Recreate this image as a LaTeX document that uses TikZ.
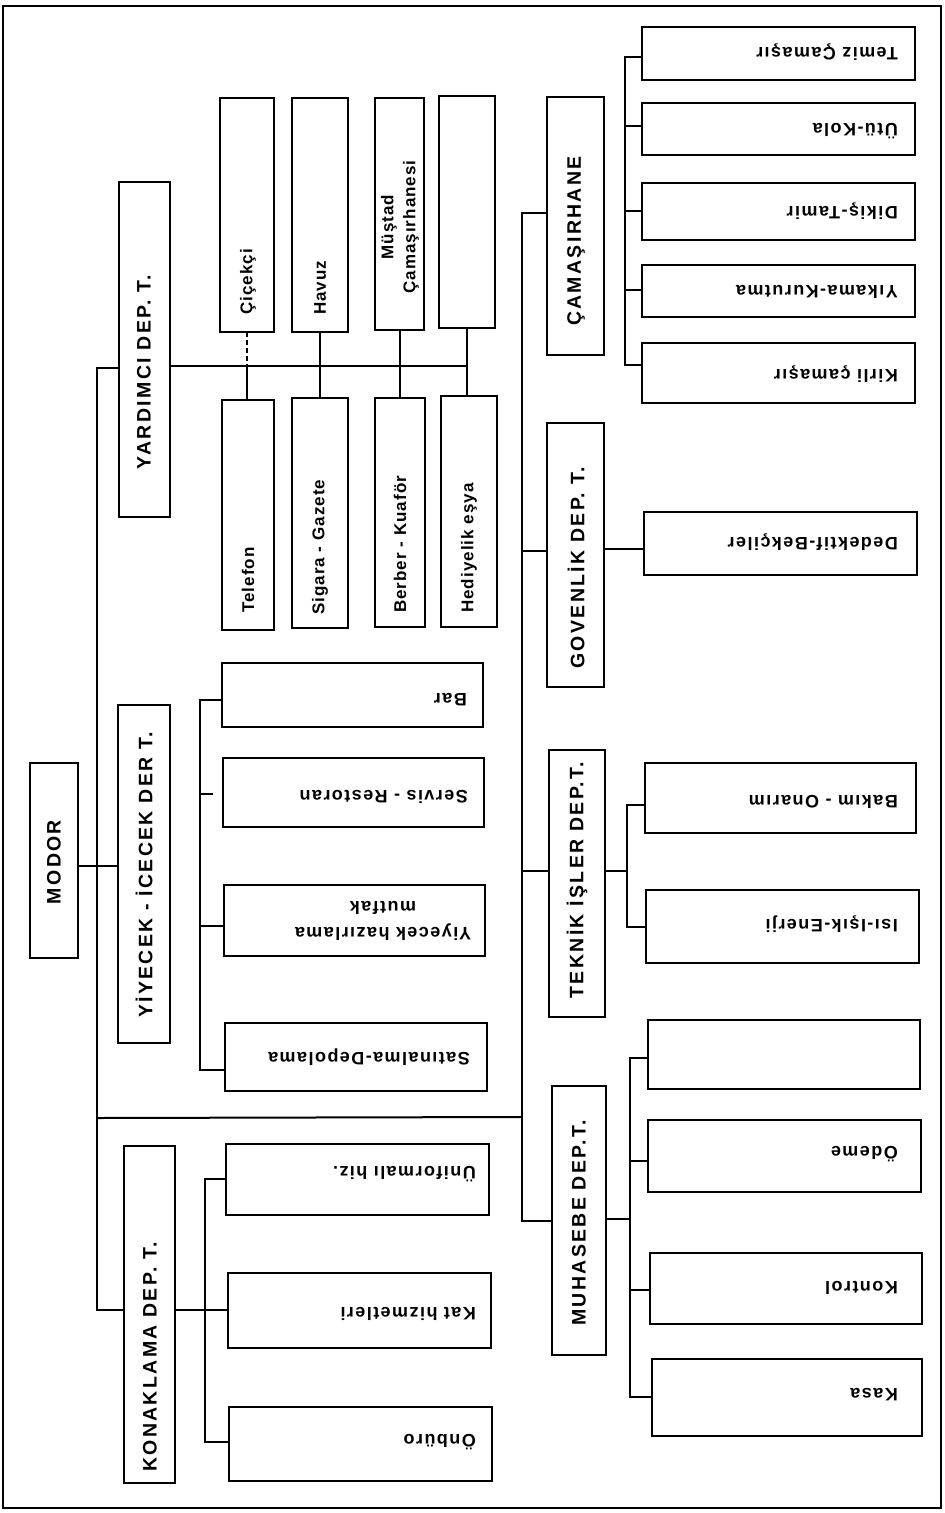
\documentclass[tikz,border=0pt]{standalone}
\usepackage{fontspec}
\setmainfont{Liberation Sans}
\newfontfamily\dfont{Liberation Sans}[LetterSpace=12]
\newfontfamily\hfont{Liberation Sans}[LetterSpace=8]
\newfontfamily\vfont{Liberation Sans}[LetterSpace=6]
\newcommand\bx[5]{\node[boxs, minimum width={#4pt-#2pt}, minimum height={#5pt-#3pt}] (#1) at ({(#2+#4)/2},{(#3+#5)/2}) {};}
\begin{document}
\begin{tikzpicture}[x=1pt,y=-1pt,
 boxs/.style={draw, line width=2.8pt, fill=white, inner sep=0pt, outer sep=0pt},
 conn/.style={line width=2pt},
 dl/.style={rotate=90, font=\dfont\bfseries\fontsize{19.5}{22}\selectfont, inner sep=0pt},
 vl/.style={rotate=90, anchor=west, font=\vfont\bfseries\fontsize{17}{22}\selectfont, inner sep=0pt},
 hl/.style={rotate=180, anchor=west, font=\hfont\bfseries\fontsize{18}{26}\selectfont, inner sep=0pt},
]
\useasboundingbox (0,0) rectangle (945,1513);
\fill[white] (0,0) rectangle (945,1513);
\draw[line width=2.6pt] (3,6) rectangle (941,1508);

% coordinates of junctions
\coordinate (mtA) at (97,368);
\coordinate (mtB) at (97,1310);
\coordinate (mtM) at (97,866);
\coordinate (mtH) at (97,1118);
\coordinate (rtA) at (522,213);
\coordinate (rtB) at (522,1221);
\coordinate (rtH) at (522,1117);
\coordinate (rtG) at (522,551);
\coordinate (rtT) at (522,871);
\coordinate (ybus) at (467,366);
\coordinate (yk1) at (200,700);
\coordinate (yk2) at (200,1070);
\coordinate (yks) at (200,794);
\coordinate (ykse) at (213,794);
\coordinate (ykh) at (200,926);
\coordinate (kk1) at (205,1179);
\coordinate (kk2) at (205,1442);
\coordinate (kkm) at (205,1310);
\coordinate (ck1) at (625,57);
\coordinate (ck2) at (625,365);
\coordinate (ck3) at (625,126);
\coordinate (ck4) at (625,211);
\coordinate (ck5) at (625,290);
\coordinate (gd) at (620,549);
\coordinate (tk1) at (627,805);
\coordinate (tk2) at (627,927);
\coordinate (tkm) at (627,871);
\coordinate (mk1) at (630,1058);
\coordinate (mk2) at (630,1397);
\coordinate (mk3) at (630,1161);
\coordinate (mk4) at (630,1290);
\coordinate (mkm) at (630,1219);

% boxes
\bx{mod}{30}{763}{78}{958}
\bx{yard}{119}{182}{170}{517}
\bx{yiy}{118}{705}{170}{1043}
\bx{kon}{124}{1146}{175}{1483}
\bx{cic}{220}{98}{274}{332}
\bx{hav}{292}{98}{348}{332}
\bx{mus}{375}{98}{424}{330}
\bx{blka}{439}{96}{495}{328}
\bx{tel}{222}{400}{274}{630}
\bx{sig}{292}{398}{348}{628}
\bx{ber}{375}{398}{425}{627}
\bx{hed}{441}{396}{497}{627}
\bx{bar}{222}{663}{483}{727}
\bx{ser}{223}{758}{484}{827}
\bx{yhz}{224}{885}{485}{956}
\bx{sat}{225}{1023}{487}{1091}
\bx{uni}{226}{1144}{489}{1215}
\bx{kat}{228}{1273}{491}{1348}
\bx{onb}{229}{1407}{492}{1481}
\bx{cam}{547}{97}{604}{355}
\bx{gov}{547}{423}{604}{687}
\bx{tek}{549}{750}{605}{1017}
\bx{muh}{552}{1086}{606}{1355}
\bx{tem}{642}{27}{915}{80}
\bx{utu}{642}{103}{915}{155}
\bx{dik}{642}{183}{915}{240}
\bx{yik}{642}{265}{915}{317}
\bx{kir}{642}{343}{915}{403}
\bx{ded}{644}{512}{917}{575}
\bx{bak}{645}{763}{916}{833}
\bx{isi}{646}{890}{919}{963}
\bx{blkb}{648}{1020}{920}{1089}
\bx{ode}{648}{1120}{921}{1192}
\bx{kont}{650}{1253}{922}{1324}
\bx{kas}{652}{1359}{922}{1436}

% connectors
\draw[conn] (yard.west |- mtA) -- (mtA) -- (mtB) -- (kon.west |- mtB);
\draw[conn] (mod.east |- mtM) -- (yiy.west |- mtM);
\draw[conn] (mtH) -- (rtH);
\draw[conn] (cam.west |- rtA) -- (rtA) -- (rtB) -- (muh.west |- rtB);
\draw[conn] (rtG) -- (gov.west |- rtG);
\draw[conn] (rtT) -- (tek.west |- rtT);
\draw[conn] (yard.east |- ybus) -- (ybus);
\draw[conn, dash pattern=on 5pt off 3pt] (cic.south) -- (cic.south |- ybus);
\draw[conn] (cic.south |- ybus) -- (cic.south |- tel.north);
\draw[conn] (hav.south) -- (hav.south |- sig.north);
\draw[conn] (mus.south) -- (mus.south |- ber.north);
\draw[conn] (blka.south) -- (blka.south |- hed.north);
\draw[conn] (bar.west |- yk1) -- (yk1) -- (yk2) -- (sat.west |- yk2);
\draw[conn] (yks) -- (ykse);
\draw[conn] (ykh) -- (yhz.west |- ykh);
\draw[conn] (uni.west |- kk1) -- (kk1) -- (kk2) -- (onb.west |- kk2);
\draw[conn] (kon.east |- kkm) -- (kat.west |- kkm);
\draw[conn] (tem.west |- ck1) -- (ck1) -- (ck2) -- (kir.west |- ck2);
\draw[conn] (ck3) -- (utu.west |- ck3);
\draw[conn] (ck4) -- (dik.west |- ck4);
\draw[conn] (ck5) -- (yik.west |- ck5);
\draw[conn] (gov.east |- gd) -- (ded.west |- gd);
\draw[conn] (bak.west |- tk1) -- (tk1) -- (tk2) -- (isi.west |- tk2);
\draw[conn] (tek.east |- tkm) -- (tkm);
\draw[conn] (blkb.west |- mk1) -- (mk1) -- (mk2) -- (kas.west |- mk2);
\draw[conn] (mk3) -- (ode.west |- mk3);
\draw[conn] (mk4) -- (kont.west |- mk4);
\draw[conn] (muh.east |- mkm) -- (mkm);

% department labels
\node[dl] (tmod) at (54,862) {MODOR};
\node[dl] (tyard) at (144,372) {YARDIMCI DEP. T.};
\node[dl] (tyiy) at (144,875) {YİYECEK - İCECEK DER T.};
\node[dl] (tkon) at (150,1357) {KONAKLAMA DEP. T.};
\node[dl] (tcam) at (576,241) {ÇAMAŞIRHANE};
\node[dl] (tgov) at (576,568) {GOVENLİK DEP. T.};
\node[dl] (ttek) at (577,880) {TEKNİK İŞLER DEP.T.};
\node[dl] (tmuh) at (579,1223) {MUHASEBE DEP.T.};

% vertical sub labels
\node[vl] (tcic) at (248,315) {Çiçekçi};
\node[vl] (thav) at (320,315) {Havuz};
\node[vl, anchor=center, align=center] (tmus) at (400,227) {Müştad\\Çamaşırhanesi};
\node[vl] (ttel) at (248,613) {Telefon};
\node[vl] (tsig) at (320,615) {Sigara - Gazete};
\node[vl] (tber) at (400,613) {Berber - Kuaför};
\node[vl] (thed) at (469,613) {Hediyelik eşya};

% horizontal (upside-down) sub labels
\node[hl] (tbar) at (467,700) {Bar};
\node[hl] (tser) at (468,797) {Servis - Restoran};
\node[hl, anchor=center, align=center] (tyhz) at (383,921) {Yiyecek hazırlama\\mutfak};
\node[hl] (tsat) at (470,1057) {Satınalma-Depolama};
\node[hl] (tuni) at (476,1174) {Üniformalı hiz.};
\node[hl] (tkat) at (476,1314) {Kat hizmetleri};
\node[hl] (tonb) at (476,1442) {Önbüro};
\node[hl] (ttem) at (898,52) {Temiz Çamaşır};
\node[hl] (tutu) at (898,131) {Ütü-Kola};
\node[hl] (tdik) at (898,211) {Dikiş-Tamir};
\node[hl] (tyik) at (898,292) {Yıkama-Kurutma};
\node[hl] (tkir) at (898,374) {Kirli çamaşır};
\node[hl] (tded) at (898,542) {Dedektif-Bekçiler};
\node[hl] (tbak) at (898,802) {Bakım - Onarım};
\node[hl] (tisi) at (898,924) {Isı-Işık-Enerji};
\node[hl] (tode) at (898,1154) {Ödeme};
\node[hl] (tkont) at (898,1288) {Kontrol};
\node[hl] (tkas) at (898,1395) {Kasa};
\end{tikzpicture}
\end{document}
